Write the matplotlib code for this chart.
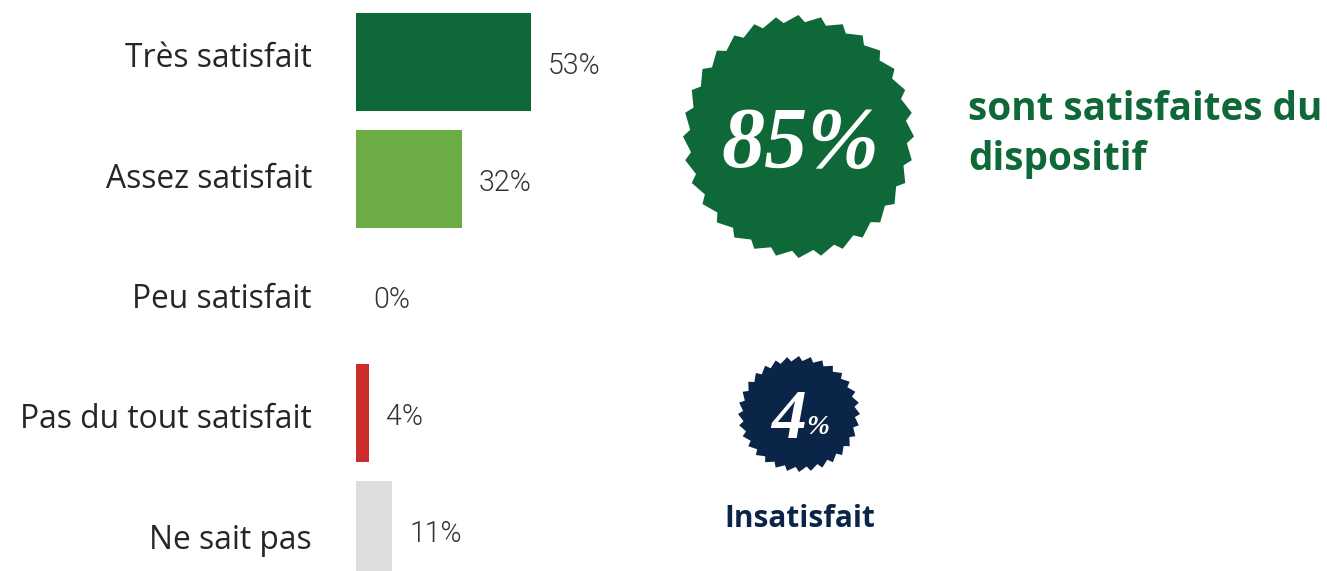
import numpy as np
import matplotlib
matplotlib.use("Agg")
import matplotlib.pyplot as plt
from matplotlib.patches import Polygon

W, H = 1327, 571

categories = ["Très satisfait", "Assez satisfait", "Peu satisfait",
              "Pas du tout satisfait", "Ne sait pas"]
values = [53, 32, 0, 4, 11]
value_labels = ["53%", "32%", "0%", "4%", "11%"]
bar_colors = ["#0E6837", "#6CAC45", "#6CAC45", "#CC2C2C", "#DCDDDF"]

satisfied_pct = "85%"
unsatisfied_num = "4"
headline_lines = ["sont satisfaites du", "dispositif"]
unsat_label = "Insatisfait"

GREEN = "#0E6837"
NAVY = "#0B2548"
TXT = "#262626"

fig = plt.figure(figsize=(W / 100, H / 100), dpi=100)
renderer = fig.canvas.get_renderer()


def fit_width(t, target):
    bb = t.get_window_extent(renderer=renderer)
    t.set_fontsize(t.get_fontsize() * target / bb.width)
    return t.get_fontsize()


# --- bar axes ---------------------------------------------------------
px_per_pct = 3.3
pitch = 117.0
ax = fig.add_axes([356 / W, 0, 400 / W, 1])
ax.set_xlim(0, 400 / px_per_pct)
ax.set_ylim((H - 62) / pitch, -62 / pitch)
ypos = np.arange(len(categories))
ax.barh(ypos, values, height=98 / pitch, color=bar_colors, linewidth=0)
ax.axis("off")

vtexts = []
for i, (v, lbl) in enumerate(zip(values, value_labels)):
    t = ax.annotate(lbl, (v, i), xytext=(17, -12), textcoords="offset pixels",
                    ha="left", va="baseline", fontsize=16, color="#333333",
                    family="Roboto", fontweight=300)
    vtexts.append(t)
vs = fit_width(vtexts[0], 53)
for t in vtexts:
    t.set_fontsize(vs)

# --- overlay axes in pixel coordinates --------------------------------
ov = fig.add_axes([0, 0, 1, 1])
ov.set_xlim(0, W)
ov.set_ylim(H, 0)
ov.axis("off")

ctexts = []
for i, c in enumerate(categories):
    t = ov.text(312, 67 + 120.5 * i, c, ha="right", va="baseline",
                fontsize=20, color=TXT, family="Open Sans")
    ctexts.append(t)
cs = fit_width(ctexts[0], 186)
for t in ctexts:
    t.set_fontsize(cs)


def star(cx, cy, rx, ry, n, depth):
    pts = []
    step = 2 * np.pi / n
    for k in range(n):
        a = np.pi / 2 + k * step
        pts.append((cx + rx * np.cos(a), cy - ry * np.sin(a)))
        a2 = a + 0.7 * step
        pts.append((cx + (rx - depth) * np.cos(a2), cy - (ry - depth) * np.sin(a2)))
    return pts


ov.add_patch(Polygon(star(798.5, 136.5, 115.5, 121.5, 32, 7), closed=True,
                     facecolor=GREEN, edgecolor="none"))
ov.add_patch(Polygon(star(799, 414, 61, 58, 32, 5), closed=True,
                     facecolor=NAVY, edgecolor="none"))

t85 = ov.text(800, 167, satisfied_pct, ha="center", va="baseline", fontsize=50,
              color="white", family="Liberation Serif", fontweight="bold",
              fontstyle="italic")
fit_width(t85, 158)

t4 = ov.text(806, 438, unsatisfied_num, ha="right", va="baseline", fontsize=30,
             color="white", family="Liberation Serif", fontweight="bold",
             fontstyle="italic")
fit_width(t4, 35)
tp = ov.text(806, 434, "%", ha="left", va="baseline", fontsize=15,
             color="white", family="Liberation Serif", fontweight="bold",
             fontstyle="italic")
fit_width(tp, 23)

ti = ov.text(800, 527, unsat_label, ha="center", va="baseline", fontsize=20,
             color=NAVY, family="Open Sans", fontweight="bold")
fit_width(ti, 150)

h1 = ov.text(968, 120, headline_lines[0], ha="left", va="baseline", fontsize=24,
             color=GREEN, family="Open Sans", fontweight="bold")
hs = fit_width(h1, 354)
ov.text(968, 170, headline_lines[1], ha="left", va="baseline", fontsize=hs,
        color=GREEN, family="Open Sans", fontweight="bold")

fig.savefig("out.png", dpi=100, facecolor="white")
